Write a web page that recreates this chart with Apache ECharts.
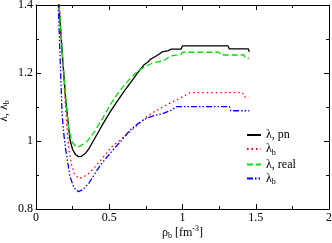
<!DOCTYPE html>
<html><head><meta charset="utf-8">
<script src="https://cdn.jsdelivr.net/npm/echarts@6/dist/echarts.min.js"></script>
<style>html,body{margin:0;padding:0;background:#fff}#c{width:332px;height:243px}</style>
</head><body><div id="c"></div>
<script>
const rhoPn = [0.155,0.157,0.18,0.203,0.21,0.232,0.25,0.27,0.289,0.31,0.34,0.365,0.391,0.45,0.505,0.56,0.60,0.664,0.71,0.74,0.767,0.78,0.80,0.82,0.84,0.86,0.90,0.92,0.99,1.0,1.31,1.32,1.45,1.455];
const lamPn = [1.42,1.40,1.253,1.121,1.091,1.003,0.975,0.96,0.954,0.955,0.965,0.98,1.0,1.045,1.085,1.12,1.145,1.183,1.21,1.225,1.233,1.24,1.245,1.25,1.255,1.262,1.265,1.27,1.27,1.28,1.28,1.271,1.271,1.262];
const rhoBpn = [0.158,0.16,0.18,0.203,0.215,0.225,0.24,0.26,0.289,0.32,0.36,0.403,0.45,0.517,0.58,0.642,0.70,0.755,0.81,0.869,0.92,0.96,1.0,1.05,1.41,1.42,1.455];
const lamBpn = [1.42,1.40,1.25,1.09,1.02,0.974,0.935,0.905,0.890,0.893,0.905,0.924,0.948,0.983,1.005,1.027,1.05,1.071,1.087,1.101,1.113,1.121,1.13,1.142,1.142,1.13,1.13];
const rhoReal = [0.155,0.158,0.18,0.203,0.225,0.25,0.278,0.30,0.34,0.37,0.403,0.45,0.505,0.55,0.60,0.65,0.70,0.75,0.80,0.87,0.90,0.92,0.99,1.0,1.25,1.26,1.42,1.43,1.455];
const lamReal = [1.42,1.40,1.26,1.125,1.03,0.995,0.982,0.985,0.995,1.01,1.03,1.063,1.105,1.135,1.163,1.187,1.207,1.22,1.23,1.236,1.245,1.25,1.255,1.261,1.261,1.253,1.253,1.243,1.243];
const rhoBreal = [0.15,0.152,0.164,0.178,0.19,0.203,0.232,0.26,0.289,0.32,0.36,0.403,0.45,0.528,0.58,0.642,0.70,0.755,0.81,0.869,0.92,0.96,1.32,1.33,1.455];
const lamBreal = [1.42,1.40,1.253,1.08,1.02,0.974,0.895,0.862,0.851,0.857,0.875,0.905,0.935,0.975,1.0,1.032,1.052,1.067,1.075,1.081,1.09,1.101,1.101,1.089,1.089];
const xTicks = [0,0.5,1,1.5,2];
const yTicks = [0.8,1,1.2,1.4];
const legendNames = ['λ, pn','λb pn','λ, real','λb real'];

const zip = (a,b)=>a.map((v,i)=>[v,b[i]]);
const font = 'Liberation Serif';
const fmtNum = v => (Math.round(v*10)/10).toString();
const axisBase = {
  axisLine:{show:true,onZero:false,lineStyle:{color:'#000',width:1}},
  axisTick:{show:true,inside:true,length:5,lineStyle:{color:'#000'}},
  minorTick:{show:true,splitNumber:2,length:3,lineStyle:{color:'#000'}},
  splitLine:{show:false}
};
const chart = echarts.init(document.getElementById('c'));
chart.setOption({
  animation:false,
  grid:{left:36,right:3,top:5,bottom:34,containLabel:false,outerBoundsMode:'none'},
  xAxis:[
    Object.assign({type:'value',min:xTicks[0],max:xTicks[xTicks.length-1],interval:0.5,position:'bottom',
      axisLabel:{color:'#000',fontFamily:font,fontSize:12,margin:3,formatter:fmtNum},
      name:'{t|ρ}{sub|b}{t| [fm}{sup|-3}{t|]}',nameLocation:'middle',nameGap:16,nameMoveOverlap:false,
      nameTextStyle:{rich:{t:{fontFamily:font,fontSize:12,color:'#000'},sub:{fontFamily:font,fontSize:8,color:'#000',padding:[7,0,0,0]},sup:{fontFamily:font,fontSize:8,color:'#000',padding:[0,0,7,0]}}}
    },axisBase),
    Object.assign({type:'value',min:0,max:2,interval:0.5,position:'top',axisLabel:{show:false}},axisBase)
  ],
  yAxis:[
    Object.assign({type:'value',min:yTicks[0],max:yTicks[yTicks.length-1],interval:0.2,position:'left',
      axisLabel:{color:'#000',fontFamily:font,fontSize:12,margin:3,formatter:fmtNum},
      name:'{t|λ, λ}{sub|b}',nameLocation:'middle',nameGap:25,nameRotate:90,nameMoveOverlap:false,
      nameTextStyle:{padding:[0,8,0,0],rich:{t:{fontFamily:font,fontSize:12,color:'#000'},sub:{fontFamily:font,fontSize:8,color:'#000',padding:[7,0,0,0]}}}
    },axisBase),
    Object.assign({type:'value',min:0.8,max:1.4,interval:0.2,position:'right',axisLabel:{show:false}},axisBase)
  ],
  legend:{
    orient:'vertical',left:241,top:124,itemWidth:14,itemHeight:8,itemGap:2,
    itemStyle:{opacity:0},
    data:legendNames,
    formatter:function(n){
      if(n==='λ, pn') return '{t|λ, pn}';
      if(n==='λ, real') return '{t|λ, real}';
      return '{t|λ}{sub|b}';
    },
    textStyle:{rich:{t:{fontFamily:font,fontSize:12,color:'#000'},sub:{fontFamily:font,fontSize:8,color:'#000',padding:[7,0,0,0]}}}
  },
  series:[
    {name:legendNames[0],type:'line',data:zip(rhoPn,lamPn),symbol:'none',color:'#000',lineStyle:{color:'#000',width:1.3,type:'solid'},clip:true},
    {name:legendNames[1],type:'line',data:zip(rhoBpn,lamBpn),symbol:'none',color:'#ff0000',lineStyle:{color:'#ff0000',width:1.3,type:[1.5,3]},clip:true},
    {name:legendNames[2],type:'line',data:zip(rhoReal,lamReal),symbol:'none',color:'#00e000',lineStyle:{color:'#00e000',width:1.3,type:[6,3]},clip:true},
    {name:legendNames[3],type:'line',data:zip(rhoBreal,lamBreal),symbol:'none',color:'#0000ff',lineStyle:{color:'#0000ff',width:1.3,type:[6,2,1.5,2,1.5,2]},clip:true}
  ]
});
</script></body></html>
